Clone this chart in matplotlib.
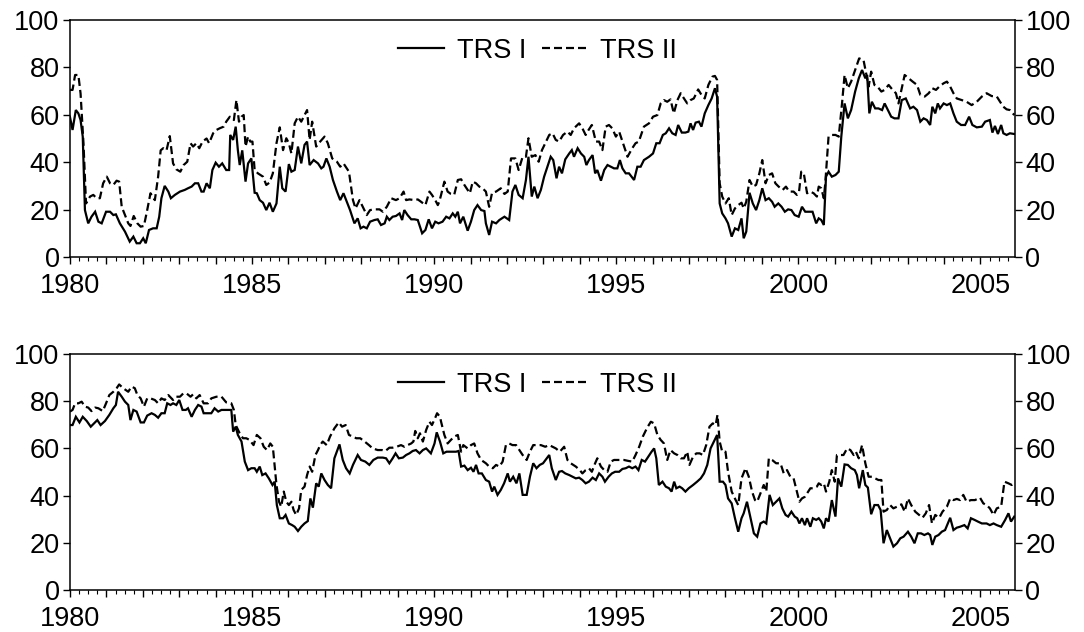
import matplotlib
matplotlib.use('Agg')
import matplotlib.pyplot as plt
from matplotlib.ticker import MultipleLocator, FuncFormatter

plt.rcParams['font.family'] = ['Liberation Sans', 'DejaVu Sans']

# ---------------- Panel 1 (top) ----------------
top_trs1_t = [1980.00, 1980.07, 1980.16, 1980.23, 1980.29, 1980.35, 1980.41, 1980.50, 1980.59, 1980.69, 1980.78, 1980.87, 1980.99,
              1981.10, 1981.19, 1981.26, 1981.37, 1981.51, 1981.64, 1981.74, 1981.83, 1981.92, 1982.01, 1982.08, 1982.17, 1982.28,
              1982.38, 1982.45, 1982.51, 1982.60, 1982.70, 1982.77, 1982.88, 1983.02, 1983.15, 1983.24, 1983.34, 1983.43, 1983.52,
              1983.61, 1983.67, 1983.75, 1983.84, 1983.91, 1984.00, 1984.09, 1984.18, 1984.29, 1984.37, 1984.40, 1984.48, 1984.55,
              1984.61, 1984.66, 1984.73, 1984.82, 1984.89, 1984.98, 1985.07, 1985.13, 1985.21, 1985.30, 1985.39, 1985.48, 1985.57,
              1985.67, 1985.76, 1985.83, 1985.92, 1986.01, 1986.08, 1986.17, 1986.26, 1986.35, 1986.44, 1986.51, 1986.58, 1986.69,
              1986.81, 1986.90, 1986.96, 1987.04, 1987.13, 1987.22, 1987.33, 1987.42, 1987.51, 1987.60, 1987.69, 1987.81, 1987.90,
              1987.98, 1988.06, 1988.15, 1988.24, 1988.36, 1988.45, 1988.54, 1988.64, 1988.70, 1988.77, 1988.86, 1988.95, 1989.05,
              1989.12, 1989.18, 1989.27, 1989.37, 1989.46, 1989.55, 1989.67, 1989.76, 1989.85, 1989.94, 1990.03, 1990.12, 1990.23,
              1990.33, 1990.42, 1990.51, 1990.58, 1990.65, 1990.71, 1990.80, 1990.92, 1991.01, 1991.10, 1991.19, 1991.29, 1991.38,
              1991.42, 1991.51, 1991.59, 1991.70, 1991.79, 1991.93, 1992.06, 1992.15, 1992.23, 1992.32, 1992.43, 1992.52, 1992.59,
              1992.68, 1992.75, 1992.84, 1992.93, 1993.02, 1993.11, 1993.20, 1993.27, 1993.36, 1993.43, 1993.51, 1993.60, 1993.71,
              1993.78, 1993.84, 1993.94, 1994.03, 1994.12, 1994.18, 1994.25, 1994.35, 1994.42, 1994.48, 1994.58, 1994.67, 1994.76,
              1994.85, 1994.94, 1995.03, 1995.10, 1995.17, 1995.26, 1995.35, 1995.49, 1995.58, 1995.67, 1995.76, 1995.90, 1996.01,
              1996.10, 1996.19, 1996.28, 1996.36, 1996.45, 1996.54, 1996.63, 1996.70, 1996.80, 1996.90, 1996.98, 1997.04, 1997.11,
              1997.18, 1997.27, 1997.34, 1997.43, 1997.53, 1997.62, 1997.71, 1997.77, 1997.84, 1997.91, 1998.00, 1998.07, 1998.17,
              1998.26, 1998.35, 1998.44, 1998.50, 1998.57, 1998.66, 1998.75, 1998.84, 1998.93, 1999.01, 1999.10, 1999.19, 1999.28,
              1999.35, 1999.45, 1999.54, 1999.63, 1999.72, 1999.81, 1999.90, 2000.01, 2000.10, 2000.19, 2000.29, 2000.39, 2000.49,
              2000.56, 2000.63, 2000.70, 2000.76, 2000.83, 2000.92, 2001.02, 2001.11, 2001.18, 2001.27, 2001.36, 2001.45, 2001.56,
              2001.66, 2001.75, 2001.84, 2001.89, 2001.95, 2002.02, 2002.11, 2002.20, 2002.30, 2002.37, 2002.46, 2002.55, 2002.64,
              2002.75, 2002.84, 2002.95, 2003.07, 2003.16, 2003.26, 2003.35, 2003.44, 2003.53, 2003.62, 2003.68, 2003.76, 2003.83,
              2003.89, 2003.99, 2004.08, 2004.17, 2004.26, 2004.35, 2004.47, 2004.58, 2004.69, 2004.78, 2004.90, 2005.04, 2005.13,
              2005.26, 2005.33, 2005.40, 2005.48, 2005.57, 2005.63, 2005.72, 2005.81, 2005.93]
top_trs1_v = [59, 53.6, 62, 60.6, 57.8, 50.8, 19.8, 14.2, 17, 19.1, 14.9, 14.2, 19.1,
              19.1, 17.7, 18, 14.2, 10.7, 6.5, 8.6, 5.8, 5.8, 7.9, 5.8, 11.4, 12.1,
              12.1, 17, 24.8, 30, 27.6, 24.8, 26.2, 27.6, 28.3, 29, 29.7, 31.1, 31.1,
              27.6, 27.6, 31.1, 29, 36.7, 39.8, 38.1, 39.5, 36.7, 36.7, 51.5, 49.4, 55,
              45, 38.8, 45, 31.8, 39.5, 41.6, 27.1, 26.9, 24, 22.9, 19.8, 22.9, 19.1,
              22.6, 38.1, 29, 27.6, 39.2, 36, 36.7, 46.6, 39.5, 47.3, 48.7, 38.8, 40.9,
              39.5, 37.4, 38.1, 41.6, 38.1, 32.5, 27.6, 24, 26.9, 23.3, 19.8, 14.2, 16.3,
              12.1, 12.8, 12.1, 14.9, 15.6, 15.9, 13.5, 14.2, 17, 15.6, 17, 17.3, 18.4,
              15.6, 19.8, 17.7, 15.9, 15.9, 15.6, 10, 11.4, 15.9, 12.1, 14.9, 14.2, 14.9,
              17, 16.3, 18.4, 17, 19.1, 14.2, 17, 11.1, 14.9, 19.8, 21.9, 19.8, 19.4,
              14.2, 9.3, 14.9, 14.2, 15.6, 17, 15.6, 27.6, 30.4, 26.2, 24.8, 32.5, 42.3,
              25.5, 29.7, 24.8, 28.3, 33.9, 38.1, 42.3, 40.9, 33.2, 38.1, 35.3, 41.2, 43.7,
              45.1, 42.3, 45.9, 43.7, 42.3, 38.8, 40.9, 43, 35.3, 36.7, 32.2, 36.7, 38.8,
              38.1, 37.4, 37.4, 40.9, 37.4, 35.3, 35.3, 32.5, 38.1, 38.1, 40.9, 42.3, 43.7,
              48, 48, 51.5, 52.2, 54.3, 52.2, 51.5, 55.7, 52.5, 52.5, 52.9, 56.4, 53.6,
              56.7, 57.1, 55, 60.6, 64.1, 66.9, 71.2, 67.6, 22.6, 18.4, 16.3, 14.2, 8.6,
              12.1, 11.4, 16.3, 7.9, 10.7, 27.1, 22.6, 19.8, 24, 29, 24, 24.8, 23.3,
              21.2, 22.6, 21.2, 19.1, 20.1, 19.8, 17.7, 17, 21.2, 19.1, 19.1, 19.1, 14.2,
              16.3, 15.6, 13.5, 33.9, 36, 33.9, 34.6, 36, 50.8, 64.8, 58.5, 62, 69.8,
              75.4, 78.9, 75.4, 76.8, 60.6, 65.5, 62.7, 62.7, 62, 64.8, 62, 59.2, 58.5,
              58.5, 66.2, 66.9, 62.7, 63.4, 62, 57.1, 58.5, 57.8, 55.7, 63.4, 60.6, 64.8,
              62.7, 64.8, 64.1, 64.8, 60.6, 57.1, 55.7, 55.7, 59.2, 55.7, 54.7, 55, 57.1,
              57.8, 52.5, 55.3, 51.9, 55.7, 52.2, 51.5, 52.2, 51.9]

top_trs2_t = [1980.00, 1980.07, 1980.14, 1980.23, 1980.29, 1980.37, 1980.44, 1980.55, 1980.64, 1980.73, 1980.82, 1980.91, 1981.01,
              1981.10, 1981.19, 1981.28, 1981.35, 1981.42, 1981.51, 1981.60, 1981.66, 1981.75, 1981.85, 1981.94, 1982.03, 1982.12,
              1982.21, 1982.33, 1982.42, 1982.49, 1982.56, 1982.65, 1982.74, 1982.83, 1982.92, 1983.03, 1983.12, 1983.22, 1983.31,
              1983.38, 1983.47, 1983.55, 1983.64, 1983.75, 1983.82, 1983.93, 1984.02, 1984.11, 1984.22, 1984.29, 1984.39, 1984.50,
              1984.57, 1984.64, 1984.71, 1984.77, 1984.82, 1984.89, 1984.95, 1985.01, 1985.07, 1985.16, 1985.30, 1985.39, 1985.48,
              1985.57, 1985.67, 1985.76, 1985.85, 1985.94, 1986.01, 1986.08, 1986.17, 1986.26, 1986.35, 1986.44, 1986.51, 1986.58,
              1986.65, 1986.76, 1986.87, 1986.99, 1987.08, 1987.20, 1987.33, 1987.42, 1987.51, 1987.66, 1987.77, 1987.84, 1987.95,
              1988.04, 1988.15, 1988.24, 1988.36, 1988.50, 1988.59, 1988.70, 1988.82, 1988.95, 1989.05, 1989.16, 1989.23, 1989.32,
              1989.46, 1989.55, 1989.64, 1989.76, 1989.87, 1989.94, 1990.03, 1990.10, 1990.14, 1990.19, 1990.28, 1990.37, 1990.46,
              1990.55, 1990.65, 1990.74, 1990.83, 1990.98, 1991.06, 1991.15, 1991.24, 1991.33, 1991.42, 1991.51, 1991.59, 1991.70,
              1991.83, 1991.93, 1992.02, 1992.11, 1992.23, 1992.32, 1992.43, 1992.52, 1992.59, 1992.68, 1992.78, 1992.87, 1992.96,
              1993.05, 1993.16, 1993.25, 1993.34, 1993.43, 1993.54, 1993.66, 1993.75, 1993.84, 1993.98, 1994.07, 1994.16, 1994.24,
              1994.33, 1994.44, 1994.53, 1994.62, 1994.71, 1994.80, 1994.89, 1994.99, 1995.08, 1995.17, 1995.31, 1995.44, 1995.53,
              1995.62, 1995.76, 1995.90, 1996.01, 1996.13, 1996.22, 1996.31, 1996.40, 1996.49, 1996.58, 1996.68, 1996.77, 1996.86,
              1996.95, 1997.04, 1997.13, 1997.25, 1997.34, 1997.43, 1997.53, 1997.64, 1997.71, 1997.77, 1997.84, 1997.91, 1998.00,
              1998.09, 1998.17, 1998.26, 1998.35, 1998.44, 1998.50, 1998.57, 1998.66, 1998.75, 1998.84, 1998.93, 1999.01, 1999.10,
              1999.19, 1999.28, 1999.37, 1999.46, 1999.57, 1999.66, 1999.75, 1999.87, 1999.96, 2000.02, 2000.08, 2000.15, 2000.24,
              2000.33, 2000.42, 2000.51, 2000.56, 2000.63, 2000.70, 2000.74, 2000.83, 2000.92, 2001.02, 2001.11, 2001.20, 2001.27,
              2001.36, 2001.45, 2001.56, 2001.67, 2001.79, 2001.88, 2001.93, 2002.00, 2002.09, 2002.19, 2002.28, 2002.37, 2002.48,
              2002.59, 2002.68, 2002.75, 2002.83, 2002.92, 2003.03, 2003.14, 2003.26, 2003.35, 2003.47, 2003.58, 2003.68, 2003.78,
              2003.87, 2003.99, 2004.08, 2004.17, 2004.26, 2004.35, 2004.49, 2004.62, 2004.76, 2004.90, 2005.04, 2005.17, 2005.31,
              2005.45, 2005.54, 2005.63, 2005.72, 2005.81, 2005.93]
top_trs2_v = [70.5, 70.5, 76.8, 76.8, 69, 48, 22.6, 25.5, 26.2, 24.8, 24.8, 31.1, 33.9,
              31.1, 30.4, 32.2, 31.8, 21.2, 17.7, 14.2, 13.1, 17.3, 14.2, 12.8, 13.1, 19.8,
              26.9, 24, 33.9, 45, 45.9, 45, 51, 39.5, 37, 36, 38.8, 40.2, 48,
              46.6, 48, 45.9, 48.7, 50, 48, 52.2, 53.6, 54.3, 55, 57.1, 59.2, 57.8,
              66.2, 57.1, 59.2, 59.9, 46.6, 50.8, 48.7, 48.7, 36.7, 35.3, 33.9, 30.4, 31.4,
              35.3, 48, 54.7, 45.1, 50.1, 48, 43.7, 56.4, 59.2, 57.1, 59.9, 62, 49.4,
              57.1, 46.6, 48.7, 50.8, 48, 41.6, 40.2, 38.1, 39.5, 36, 24, 20.5, 24,
              21.2, 17.7, 19.8, 20.1, 20.1, 19.1, 21.2, 24.8, 24, 24.8, 27.6, 24, 24.3,
              24, 24.3, 23.3, 21.9, 27.6, 26.2, 24, 21.9, 23.3, 26.2, 31.8, 27.6, 26.6,
              26.2, 32.5, 32.8, 30.4, 26.9, 31.8, 31.1, 29.7, 29, 27.6, 21.2, 27.1, 27.6,
              29, 26.6, 27.6, 41.6, 41.6, 36.7, 42.3, 42.3, 50.1, 42.3, 43, 40.2, 45.1,
              48, 51.5, 52.2, 49.4, 48.7, 51.5, 52.9, 51.5, 54.3, 56.4, 54.3, 51.5, 53.6,
              55.7, 48.7, 48.7, 45.1, 55, 55.7, 54.3, 50.8, 52.9, 48.7, 42.3, 45.9, 48,
              48.7, 55, 56.4, 59.2, 59.9, 64.8, 66.2, 65.5, 66.5, 60.6, 66.2, 69.1, 66.9,
              64.8, 66.2, 66.9, 70.7, 68.4, 66.9, 72.6, 76.1, 76.4, 74.7, 31.1, 25.5, 22.6,
              24.8, 17.7, 20.5, 21.9, 22.9, 20.5, 23.3, 32.5, 29.7, 30.4, 35.3, 40.9, 31.1,
              34.6, 35.3, 31.1, 29.7, 28.3, 29.7, 27.6, 27.6, 26.2, 27.6, 36, 35.3, 26.9,
              27.6, 26.9, 25.5, 29.7, 29, 24.8, 31.1, 50.8, 51.5, 51.5, 50.8, 64.8, 76.8,
              71.2, 74, 78.9, 83.8, 83.1, 76.1, 71.9, 78.2, 72.6, 71.6, 69.8, 70.5, 72.6,
              70.5, 69.1, 64.8, 70.5, 76.8, 75.4, 74, 72.6, 68.4, 67.7, 69.1, 71.2, 70.5,
              71.9, 73.3, 74, 71.9, 69.1, 66.9, 66.2, 65.5, 64.1, 65.5, 67.7, 69.1, 67.9,
              67.7, 65.5, 63.4, 62.3, 62, 59.9]

# ---------------- Panel 2 (bottom) ----------------
bot_trs1_t = [1980.00, 1980.07, 1980.16, 1980.26, 1980.35, 1980.46, 1980.57, 1980.66, 1980.75, 1980.84, 1980.96, 1981.08, 1981.19,
              1981.26, 1981.32, 1981.42, 1981.51, 1981.60, 1981.66, 1981.74, 1981.83, 1981.94, 1982.03, 1982.12, 1982.24, 1982.33,
              1982.42, 1982.51, 1982.60, 1982.67, 1982.76, 1982.83, 1982.92, 1983.00, 1983.09, 1983.18, 1983.24, 1983.34, 1983.43,
              1983.52, 1983.61, 1983.67, 1983.79, 1983.88, 1983.97, 1984.07, 1984.16, 1984.25, 1984.34, 1984.43, 1984.48, 1984.55,
              1984.61, 1984.71, 1984.80, 1984.89, 1984.98, 1985.07, 1985.13, 1985.21, 1985.28, 1985.37, 1985.46, 1985.56, 1985.62,
              1985.68, 1985.76, 1985.85, 1985.92, 1986.01, 1986.10, 1986.17, 1986.26, 1986.35, 1986.44, 1986.53, 1986.60, 1986.67,
              1986.76, 1986.83, 1986.90, 1986.99, 1987.08, 1987.17, 1987.26, 1987.40, 1987.49, 1987.58, 1987.68, 1987.77, 1987.90,
              1987.99, 1988.11, 1988.22, 1988.33, 1988.45, 1988.59, 1988.68, 1988.77, 1988.86, 1988.94, 1989.03, 1989.14, 1989.23,
              1989.32, 1989.41, 1989.50, 1989.60, 1989.69, 1989.78, 1989.91, 1990.01, 1990.07, 1990.16, 1990.25, 1990.34, 1990.46,
              1990.60, 1990.67, 1990.74, 1990.83, 1990.92, 1991.01, 1991.08, 1991.15, 1991.22, 1991.31, 1991.42, 1991.51, 1991.59,
              1991.65, 1991.74, 1991.83, 1991.92, 1992.02, 1992.08, 1992.17, 1992.26, 1992.34, 1992.43, 1992.54, 1992.63, 1992.72,
              1992.81, 1992.90, 1992.99, 1993.09, 1993.16, 1993.23, 1993.34, 1993.43, 1993.51, 1993.60, 1993.71, 1993.80, 1993.89,
              1993.98, 1994.07, 1994.16, 1994.25, 1994.35, 1994.44, 1994.53, 1994.62, 1994.69, 1994.79, 1994.88, 1994.97, 1995.08,
              1995.17, 1995.26, 1995.35, 1995.44, 1995.53, 1995.61, 1995.70, 1995.79, 1995.88, 1995.97, 1996.04, 1996.10, 1996.17,
              1996.27, 1996.36, 1996.45, 1996.52, 1996.59, 1996.65, 1996.74, 1996.81, 1996.90, 1996.99, 1997.11, 1997.22, 1997.32,
              1997.41, 1997.50, 1997.59, 1997.68, 1997.77, 1997.84, 1997.93, 1998.00, 1998.07, 1998.17, 1998.26, 1998.35, 1998.44,
              1998.50, 1998.59, 1998.69, 1998.78, 1998.87, 1998.96, 1999.05, 1999.12, 1999.21, 1999.30, 1999.39, 1999.48, 1999.56,
              1999.65, 1999.72, 1999.81, 1999.90, 1999.97, 2000.03, 2000.10, 2000.18, 2000.24, 2000.33, 2000.40, 2000.49, 2000.56,
              2000.63, 2000.70, 2000.76, 2000.83, 2000.92, 2001.02, 2001.09, 2001.18, 2001.27, 2001.36, 2001.45, 2001.55, 2001.61,
              2001.67, 2001.77, 2001.84, 2001.91, 2002.00, 2002.09, 2002.19, 2002.26, 2002.34, 2002.43, 2002.52, 2002.61, 2002.71,
              2002.80, 2002.89, 2003.01, 2003.10, 2003.19, 2003.28, 2003.37, 2003.46, 2003.56, 2003.62, 2003.68, 2003.76, 2003.85,
              2003.94, 2004.03, 2004.17, 2004.26, 2004.35, 2004.44, 2004.56, 2004.65, 2004.74, 2004.84, 2004.93, 2005.04, 2005.17,
              2005.26, 2005.36, 2005.45, 2005.57, 2005.68, 2005.77, 2005.84, 2005.93]
bot_trs1_v = [69.9, 69.9, 73.4, 71, 73.4, 71.6, 69.2, 70.6, 72, 69.9, 71.6, 74.2, 77,
              78.4, 84, 81.9, 79.8, 78.4, 72, 76.3, 75.6, 71, 71, 73.9, 74.9, 74.2,
              73, 74.9, 74.9, 79.1, 78.4, 79.1, 78.4, 80.5, 76.3, 76.3, 77, 73.4, 76.3,
              78.4, 77.7, 74.9, 74.9, 74.9, 77, 75.6, 76.3, 76.3, 76.3, 76.3, 67.1, 69.2,
              65.7, 62.9, 54.4, 50.8, 51.6, 51.6, 50.1, 52.3, 48.7, 49.4, 47.3, 44.5, 45.9,
              36, 30.4, 30.4, 31.8, 28.2, 27.5, 26.8, 25, 26.8, 28.2, 29.2, 38.8, 34.9,
              45.2, 43.8, 49.4, 46.6, 44.5, 43.1, 55.8, 61.7, 55.1, 51.6, 49.4, 53, 57.2,
              55.1, 54.4, 53, 55.1, 56.1, 56.1, 55.8, 53.7, 55.8, 57.9, 55.8, 56.1, 57.2,
              57.9, 58.9, 59.3, 57.9, 59.3, 60, 57.9, 62.1, 66.8, 62.9, 57.9, 58.6, 58.6,
              58.6, 58.9, 52.3, 52.7, 50.8, 51.8, 50.1, 53, 49.4, 49.4, 46.6, 45.9, 41.7,
              43.8, 40.3, 42.4, 45.2, 49.4, 45.9, 48, 45.2, 49.4, 40.3, 40.3, 48, 53.7,
              51.6, 53, 53.7, 55.8, 57.2, 51.6, 46.6, 50.1, 50.4, 49.4, 48.7, 48, 47.3,
              47.6, 46.6, 45.2, 45.9, 47.6, 46.6, 49.4, 48, 45.9, 48, 49.4, 50.1, 50.1,
              51.3, 51.6, 52.3, 51.6, 52.3, 50.8, 55.1, 54.4, 56.5, 58.6, 60, 55.8, 44.5,
              45.9, 43.8, 43.1, 41.7, 45.9, 43.1, 43.8, 43.1, 41.7, 43.1, 44.5, 45.9, 47.3,
              49.4, 53, 60, 62.9, 65.7, 45.9, 45.9, 44.5, 38.8, 36.7, 30.4, 24.7, 30.4,
              32.5, 37.4, 30.4, 24, 22.6, 28.2, 29, 28.2, 40.3, 36, 37.4, 38.8, 34.6,
              31.8, 31.1, 33.2, 31.1, 30.4, 28.2, 30.4, 27.5, 30.4, 26.8, 30.4, 29.7, 30.4,
              29, 26.1, 30.4, 29, 38.1, 31.1, 47.3, 43.8, 53.2, 53, 51.6, 50.8, 48.7,
              43.1, 50.8, 44.5, 43.4, 32.1, 36, 36, 33.9, 19.8, 25.4, 21.9, 18.4, 19.8,
              21.9, 22.6, 24.7, 22.6, 19.8, 24, 24, 23.3, 24, 23.3, 19.1, 22.6, 23.3,
              24.7, 25.4, 30.6, 25.4, 26.4, 26.8, 27.5, 26.1, 30.4, 29.7, 29, 28.2, 28.2,
              27.5, 28.2, 27.5, 26.8, 29.7, 32.5, 29, 31.1]

bot_trs2_t = [1980.00, 1980.07, 1980.14, 1980.23, 1980.32, 1980.41, 1980.50, 1980.59, 1980.69, 1980.78, 1980.90, 1980.99, 1981.08,
              1981.19, 1981.28, 1981.35, 1981.46, 1981.60, 1981.69, 1981.78, 1981.85, 1981.94, 1982.03, 1982.12, 1982.21, 1982.33,
              1982.42, 1982.51, 1982.60, 1982.70, 1982.83, 1982.92, 1983.02, 1983.11, 1983.20, 1983.31, 1983.38, 1983.47, 1983.56,
              1983.67, 1983.79, 1983.88, 1984.02, 1984.16, 1984.29, 1984.43, 1984.50, 1984.55, 1984.66, 1984.75, 1984.84, 1984.93,
              1985.04, 1985.13, 1985.23, 1985.32, 1985.41, 1985.50, 1985.57, 1985.67, 1985.74, 1985.80, 1985.87, 1985.94, 1986.01,
              1986.08, 1986.14, 1986.21, 1986.29, 1986.35, 1986.44, 1986.51, 1986.58, 1986.65, 1986.74, 1986.81, 1986.87, 1986.94,
              1987.05, 1987.14, 1987.26, 1987.38, 1987.47, 1987.57, 1987.66, 1987.77, 1987.86, 1987.97, 1988.09, 1988.21, 1988.31,
              1988.45, 1988.57, 1988.66, 1988.77, 1988.86, 1988.97, 1989.09, 1989.18, 1989.27, 1989.37, 1989.43, 1989.48, 1989.55,
              1989.61, 1989.69, 1989.78, 1989.87, 1989.94, 1990.03, 1990.08, 1990.16, 1990.19, 1990.28, 1990.37, 1990.46, 1990.55,
              1990.65, 1990.74, 1990.80, 1990.92, 1991.01, 1991.10, 1991.19, 1991.29, 1991.42, 1991.51, 1991.61, 1991.70, 1991.79,
              1991.88, 1991.97, 1992.06, 1992.15, 1992.25, 1992.34, 1992.43, 1992.54, 1992.63, 1992.72, 1992.84, 1992.93, 1993.05,
              1993.16, 1993.25, 1993.34, 1993.45, 1993.57, 1993.66, 1993.75, 1993.89, 1994.00, 1994.07, 1994.16, 1994.25, 1994.33,
              1994.42, 1994.48, 1994.58, 1994.67, 1994.76, 1994.85, 1994.94, 1995.08, 1995.21, 1995.33, 1995.44, 1995.53, 1995.63,
              1995.73, 1995.85, 1995.95, 1996.04, 1996.13, 1996.22, 1996.31, 1996.40, 1996.49, 1996.59, 1996.68, 1996.77, 1996.86,
              1996.95, 1997.01, 1997.11, 1997.20, 1997.29, 1997.38, 1997.47, 1997.56, 1997.65, 1997.73, 1997.78, 1997.84, 1997.91,
              1998.00, 1998.07, 1998.17, 1998.28, 1998.35, 1998.44, 1998.55, 1998.64, 1998.73, 1998.81, 1998.87, 1998.96, 1999.05,
              1999.12, 1999.19, 1999.28, 1999.39, 1999.51, 1999.60, 1999.69, 1999.78, 1999.87, 1999.97, 2000.03, 2000.10, 2000.18,
              2000.27, 2000.33, 2000.42, 2000.51, 2000.56, 2000.63, 2000.70, 2000.76, 2000.85, 2000.92, 2001.00, 2001.06, 2001.15,
              2001.24, 2001.34, 2001.43, 2001.52, 2001.58, 2001.66, 2001.75, 2001.84, 2001.93, 2002.02, 2002.11, 2002.20, 2002.28,
              2002.34, 2002.43, 2002.52, 2002.61, 2002.71, 2002.83, 2002.92, 2003.01, 2003.10, 2003.21, 2003.32, 2003.41, 2003.50,
              2003.59, 2003.67, 2003.76, 2003.87, 2003.96, 2004.08, 2004.17, 2004.26, 2004.35, 2004.44, 2004.53, 2004.62, 2004.74,
              2004.85, 2004.99, 2005.08, 2005.17, 2005.26, 2005.36, 2005.45, 2005.57, 2005.66, 2005.77, 2005.86, 2005.93]
bot_trs2_v = [75.6, 76.3, 79.1, 79.1, 79.8, 77.7, 77.3, 75.8, 77.3, 77, 75.8, 79.1, 82.6,
              84, 85.5, 87.1, 85.5, 84, 86.2, 85.5, 82.6, 81.2, 77.7, 81.2, 81.2, 80.5,
              79.1, 81.2, 80.5, 82.6, 80.5, 81.9, 81.9, 83.3, 83.3, 81.9, 82.9, 81.2, 82.6,
              79.1, 79.1, 81.2, 81.9, 81.9, 79.5, 79.1, 76.3, 69.9, 66.4, 64.3, 64.3, 63.6,
              61.4, 65.7, 64.3, 60.7, 59.3, 62.1, 60.7, 44.5, 37.4, 35.3, 41.7, 37.4, 36,
              37.4, 33.9, 31.8, 34.6, 42.4, 43.8, 48.7, 52.3, 50.1, 57.2, 59.3, 61.4, 62.9,
              61.4, 65, 68.5, 71, 69.2, 69.9, 65.7, 65, 64.3, 64.3, 62.9, 61.4, 60,
              59.3, 59.3, 58.9, 60.3, 60.3, 60.7, 61.4, 60.7, 61.4, 62.1, 62.9, 67.4, 64.3,
              66.4, 62.9, 67.8, 71.3, 69.9, 73, 74.9, 73.4, 71.3, 65.7, 62.1, 63.6, 65,
              65.7, 58.6, 61.4, 60, 61.4, 62.1, 57.9, 55.1, 53.7, 52.3, 51.6, 53, 52.3,
              54.4, 61.4, 62.1, 61.4, 61.4, 59.3, 57.2, 55.1, 58.6, 61.4, 61.4, 61.4, 60.7,
              61.4, 60.7, 60, 58.6, 60.7, 55.1, 53.7, 52.3, 50.8, 49.4, 50.8, 51.6, 50.1,
              53.7, 55.8, 52.3, 50.8, 50.1, 54.4, 55.1, 55.1, 55.1, 54.7, 54.4, 57.2, 60.7,
              65, 68.8, 71.3, 70.6, 65.7, 63.6, 62.1, 55.1, 59.3, 57.9, 57.2, 55.8, 55.8,
              58.6, 53, 56.5, 57.9, 57.9, 57.2, 61.4, 69.2, 70.6, 69.9, 74.2, 62.9, 58.6,
              58.6, 50.1, 41.7, 38.1, 36, 47.3, 51.6, 48, 41.7, 38.1, 37.4, 41, 44.5,
              41.7, 55.8, 55.1, 53.7, 53.7, 49.4, 50.8, 48, 47.3, 41, 37.4, 38.8, 39.5,
              41.7, 43.1, 43.1, 43.8, 45.2, 44.5, 45.2, 41.7, 45.9, 50.8, 45.9, 57.2, 57.2,
              57.2, 60, 59.3, 57.2, 58.6, 55.8, 61.4, 53.7, 48, 48, 47.3, 46.6, 46.6,
              33.2, 33.9, 36, 34.6, 35.3, 36.3, 33.2, 38.8, 36, 33.2, 31.8, 30.6, 32.5,
              36, 28.2, 31.8, 30.6, 33.2, 35.3, 38.8, 38.1, 38.6, 38.1, 40.3, 37.4, 38.1,
              38.1, 39.1, 36.7, 36, 34.6, 31.8, 34.6, 35.3, 45.9, 45.2, 44.5, 45.9]

series_labels = ['TRS I', 'TRS II']
year_ticks = [1980, 1985, 1990, 1995, 2000, 2005]
value_ticks = [0, 20, 40, 60, 80, 100]

FS = 19.5
fig = plt.figure(figsize=(10.84, 6.32), dpi=100)
W, H = 1084.0, 632.0
ax1 = fig.add_axes([70 / W, 1 - 257 / H, 945 / W, 237 / H])
ax2 = fig.add_axes([70 / W, 1 - 590 / H, 945 / W, 236 / H])

panels = [(ax1, top_trs1_t, top_trs1_v, top_trs2_t, top_trs2_v),
          (ax2, bot_trs1_t, bot_trs1_v, bot_trs2_t, bot_trs2_v)]

for ax, t1, v1, t2, v2 in panels:
    ax.plot(t1, v1, color='black', lw=1.6, label=series_labels[0], solid_joinstyle='miter')
    ax.plot(t2, v2, color='black', lw=1.6, linestyle=(0, (3.6, 1.8)), label=series_labels[1])
    ax.set_xlim(1980, 2005.95)
    ax.set_ylim(0, 100)
    ax.set_yticks(value_ticks)
    ax.xaxis.set_major_locator(MultipleLocator(1))
    ax.xaxis.set_minor_locator(MultipleLocator(0.25))
    ax.xaxis.set_major_formatter(FuncFormatter(
        lambda x, pos: str(int(round(x))) if int(round(x)) in year_ticks else ''))
    ax.tick_params(axis='y', which='major', left=True, right=True, labelleft=True, labelright=True,
                   direction='out', length=5, width=1, labelsize=FS, pad=2.5)
    ax.tick_params(axis='x', which='major', direction='out', length=5, width=1, labelsize=FS, pad=6.5)
    ax.tick_params(axis='x', which='minor', direction='out', length=2.8, width=0.8)
    for s in ax.spines.values():
        s.set_linewidth(1.1)
    ax.legend(loc='upper center', ncol=2, frameon=False, fontsize=FS, handlelength=1.7,
              handletextpad=0.45, columnspacing=0.6, borderaxespad=0.25,
              bbox_to_anchor=(0.495, 1.0))

fig.savefig('out.png', dpi=100)
